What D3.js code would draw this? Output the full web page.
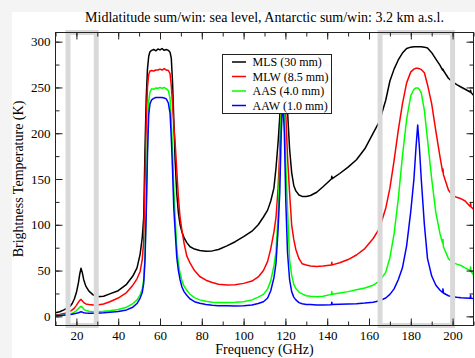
<!DOCTYPE html>
<meta charset="utf-8">
<style>
body{margin:0;background:#f4f4f4;}
svg{display:block;}
text{font-family:'Liberation Serif','Times New Roman',serif;fill:#000;}
</style>
<svg id='svg'></svg>
<script src="https://d3js.org/d3.v7.min.js"></script>
<script>

var width = 475, height = 358;

var title = 'Midlatitude sum/win: sea level, Antarctic sum/win: 3.2 km a.s.l.';
var xLabel = 'Frequency (GHz)';
var yLabel = 'Brightness Temperature (K)';

// frequency grid (GHz), rows of 10
var freqGHz = [
  10, 12, 14, 16, 17, 18, 19, 20, 21, 21.6,
  22.2, 22.8, 23.5, 24.5, 26, 28, 30, 33, 36, 40,
  44, 47, 49, 50.5, 51.5, 52.2, 52.8, 53.4, 54, 54.6,
  55.2, 56, 57, 58, 59, 60, 61, 62, 63, 64,
  64.8, 65.4, 66, 66.6, 67.2, 68, 68.8, 69.6, 70.5, 71.5,
  72.8, 74.4, 76.5, 79, 82, 85, 88, 92, 96, 100,
  104, 107, 109.5, 111.5, 113, 114.5, 115.5, 116.5, 117.3, 118,
  118.75, 119.5, 120.2, 121, 122, 123, 124, 125, 126.5, 128,
  130, 132, 135, 138, 142, 142.2, 142.4, 146, 150, 154,
  158, 162, 165, 168, 170, 172, 174, 176, 178, 180,
  181.5, 182.5, 183.3, 184.1, 185, 186.5, 188, 190, 192, 194,
  195.2, 195.4, 195.6, 198, 200, 202, 204, 206, 208.4, 208.6,
  208.8, 210
];

// brightness temperatures (K)
var mls = [
  4, 5, 7, 9.5, 11, 14, 19, 26, 37, 46,
  52.5, 48, 40, 33, 27.5, 23.5, 21.5, 22, 24.5, 28,
  35, 44, 53, 68, 86, 108, 180, 238, 270, 284,
  289, 290.5, 291.5, 290, 292, 291, 292.5, 290.5, 291.5, 290.5,
  288.5, 282, 256, 215, 172, 135, 113, 100, 92, 86,
  80.5, 76, 73.5, 72, 71, 71.5, 73, 77, 81.5, 87,
  93, 100, 108.5, 116, 126, 140, 162, 190, 218, 260,
  285, 270, 250, 225, 183, 157, 143, 137, 132.5, 131,
  131, 132, 135.5, 141.5, 150, 153, 150.3, 156, 163, 171,
  183, 200, 213, 236, 257, 270, 280, 287.5, 292.5, 294,
  294.5, 294.5, 294.5, 294.5, 294.5, 294, 293, 288, 281, 274,
  269, 270, 268.5, 260, 256, 253, 250.5, 248, 245, 247,
  244.5, 241.5
];
var mlw = [
  1.5, 2, 3, 4.5, 5.5, 7, 9, 12, 15.5, 17.5,
  18.5, 17, 15, 13.5, 13, 12.5, 12.5, 13.5, 16, 20,
  26, 34, 41, 49, 62, 82, 145, 210, 250, 264,
  268, 268.5, 268, 269, 269, 270, 269, 270.5, 269, 268.5,
  265, 252, 232, 208, 192, 160, 130, 108, 94, 80,
  66, 58, 50, 43.5, 39.5, 37, 35, 34.3, 34.5, 36,
  38.5, 43, 50, 60, 74, 92, 108, 140, 180, 240,
  268, 255, 220, 175, 135, 100, 84, 73, 63, 57.5,
  56, 55, 54.5, 55, 56, 59, 56.2, 58.5, 62, 67,
  74, 85, 96, 118, 140, 170, 203, 232, 255, 267,
  270, 271, 271, 270.5, 269.5, 266, 253, 232, 202, 174,
  158, 161, 155, 138, 132, 130, 128.5, 126, 120, 124,
  119.5, 117
];
var aas = [
  1, 1.2, 1.6, 2.2, 2.6, 3.3, 4.5, 6, 8.5, 10,
  11, 10, 8, 6.5, 5.5, 5, 5, 5.5, 6.2, 7.5,
  10, 14, 18, 23.5, 30, 40, 65, 120, 190, 235,
  245, 248.5, 248, 249.5, 249, 250, 249, 250, 248.5, 246.5,
  238, 215, 180, 140, 110, 76, 58, 47, 39, 33,
  28.5, 24, 20.5, 18, 16.5, 15.5, 15.2, 15, 15.3, 16,
  18, 21, 24, 30, 39, 55, 70, 110, 165, 225,
  248, 225, 165, 118, 62, 45, 35, 30.5, 26.5, 24.5,
  22.5, 22, 21.5, 22, 24, 27, 24.2, 25.5, 27, 29,
  31, 34, 38.5, 48, 64, 90, 128, 175, 215, 241,
  248, 249.5, 249.5, 248, 244, 225, 193, 150, 113, 90,
  80, 84, 76, 63, 59, 57, 55.5, 53, 50, 54,
  49, 45.5
];
var aaw = [
  0.8, 1, 1.3, 1.7, 2, 2.4, 2.9, 3.4, 4, 4.5,
  5, 4.6, 4, 3.6, 3.4, 3.4, 3.5, 3.9, 4.5, 5.4,
  7, 10, 14, 20, 26, 36, 60, 110, 175, 220,
  232, 236.5, 238, 239, 239, 239, 239, 238.5, 237.5, 233,
  222, 195, 160, 118, 95, 65, 50, 40, 32, 27,
  23, 19, 16, 14.3, 13, 12.2, 11.7, 11.5, 11.4, 11.5,
  12.3, 14, 16, 20, 28, 42, 58, 95, 135, 200,
  238, 200, 125, 70, 40, 27, 21, 18, 15, 13.8,
  13, 12.8, 12.5, 12.5, 12.7, 15.5, 12.8, 13.2, 13.5, 13.8,
  14.5, 15.5, 17, 20, 24, 30, 40, 53, 77, 115,
  150, 185, 209, 185, 150, 100, 63, 44, 34, 28.5,
  26, 30, 25.5, 22.5, 21.5, 20.8, 20.3, 20, 19.7, 23,
  19.7, 19.5
];

var seriesNames = ['MLS (30 mm)', 'MLW (8.5 mm)', 'AAS (4.0 mm)', 'AAW (1.0 mm)'];
var seriesValues = [mls, mlw, aas, aaw];
var seriesColours = ['#000000', '#ff0000', '#00ff00', '#0000ff'];

// grey boxes marking the channel ranges (GHz)
var bandsGHz = [[16, 29.5], [165.3, 200]];

var xMajor = d3.range(20, 201, 20);
var xMinor = d3.range(10, 211, 10);
var yMajor = d3.range(0, 301, 50);
var yMinor = d3.range(0, 301, 25);

seriesValues.forEach(function(s, i) {
  if (s.length !== freqGHz.length) console.log('length mismatch', seriesNames[i], s.length, freqGHz.length);
});

//////////////

// plot frame (note: 'top' is taken by window.top, so prefix these)
var plotL = 55.5, plotR = 473.5, plotT = 32.5, plotB = 325.5;

var x = d3.scaleLinear().domain([10, 210]).range([plotL, plotR]);
var y = d3.scaleLinear().domain([-10, 310]).range([plotB, plotT]);

var svg = d3.select('#svg')
  .attr('width', width)
  .attr('height', height);

// white page area inside the light grey margin
svg.append('rect')
  .attr('x', 12).attr('y', 12)
  .attr('width', width - 12).attr('height', height - 12)
  .attr('fill', 'white');

svg.append('text')
  .attr('x', (plotL + plotR) / 2)
  .attr('y', 22)
  .attr('text-anchor', 'middle')
  .style('font-size', '14px')
  .text(title);

svg.append('clipPath').attr('id', 'plotclip')
  .append('rect')
  .attr('x', plotL).attr('y', plotT)
  .attr('width', plotR - plotL).attr('height', plotB - plotT);

var line = d3.line()
  .x(function(d) { return x(d[0]); })
  .y(function(d) { return y(d[1]); });

var curves = svg.append('g').attr('clip-path', 'url(#plotclip)');

curves.selectAll('path')
  .data(seriesValues)
  .enter().append('path')
  .attr('d', function(s) { return line(freqGHz.map(function(f, i) { return [f, s[i]]; })); })
  .attr('fill', 'none')
  .attr('stroke', function(d, i) { return seriesColours[i]; })
  .attr('stroke-width', 1.5)
  .attr('stroke-linejoin', 'round');

// channel boxes drawn over the curves
svg.selectAll('.band')
  .data(bandsGHz)
  .enter().append('rect')
  .attr('class', 'band')
  .attr('x', function(d) { return x(d[0]); })
  .attr('y', plotT)
  .attr('width', function(d) { return x(d[1]) - x(d[0]); })
  .attr('height', plotB - plotT)
  .attr('fill', 'none')
  .attr('stroke', '#d9d9d9')
  .attr('stroke-width', 5);

// axes, ticks pointing inward on all four sides
function addAxis(axis, tx, ty, vals, size, labels) {
  var g = svg.append('g')
    .attr('transform', 'translate(' + tx + ',' + ty + ')')
    .call(axis.tickValues(vals).tickSizeInner(size).tickSizeOuter(0).tickPadding(5)
      .tickFormat(labels ? d3.format('d') : ''));
  g.select('.domain').remove();
  g.selectAll('line').attr('stroke', '#222');
  g.selectAll('text')
    .attr('fill', '#000')
    .style('font-family', "'Liberation Serif','Times New Roman',serif")
    .style('font-size', '13px');
  return g;
}

addAxis(d3.axisBottom(x), 0, plotB, xMinor, -4, false);
addAxis(d3.axisBottom(x), 0, plotB, xMajor, -7, true);
addAxis(d3.axisTop(x), 0, plotT, xMinor, -4, false);
addAxis(d3.axisTop(x), 0, plotT, xMajor, -7, false);
addAxis(d3.axisLeft(y), plotL, 0, yMinor, -4, false);
addAxis(d3.axisLeft(y), plotL, 0, yMajor, -7, true);
addAxis(d3.axisRight(y), plotR, 0, yMinor, -4, false);
addAxis(d3.axisRight(y), plotR, 0, yMajor, -7, false);

svg.append('rect')
  .attr('x', plotL).attr('y', plotT)
  .attr('width', plotR - plotL).attr('height', plotB - plotT)
  .attr('fill', 'none')
  .attr('stroke', '#222')
  .attr('stroke-width', 1);

svg.append('text')
  .attr('x', (plotL + plotR) / 2)
  .attr('y', 354)
  .attr('text-anchor', 'middle')
  .style('font-size', '14px')
  .text(xLabel);

svg.append('text')
  .attr('transform', 'translate(23,' + (plotT + plotB) / 2 + ') rotate(-90)')
  .attr('text-anchor', 'middle')
  .style('font-size', '14px')
  .text(yLabel);

// legend
var lg = svg.append('g').attr('transform', 'translate(222.5,54.5)');
lg.append('rect')
  .attr('width', 109).attr('height', 59)
  .attr('fill', 'white')
  .attr('stroke', '#222');

var rows = lg.selectAll('.row')
  .data(seriesNames)
  .enter().append('g')
  .attr('class', 'row')
  .attr('transform', function(d, i) { return 'translate(0,' + (7.5 + i * 14.5) + ')'; });

rows.append('line')
  .attr('x1', 9.5).attr('x2', 23.5)
  .attr('stroke', function(d, i) { return seriesColours[i]; })
  .attr('stroke-width', 1.5);

rows.append('text')
  .attr('x', 30)
  .attr('dy', '.35em')
  .style('font-size', '12px')
  .text(function(d) { return d; });

</script>
